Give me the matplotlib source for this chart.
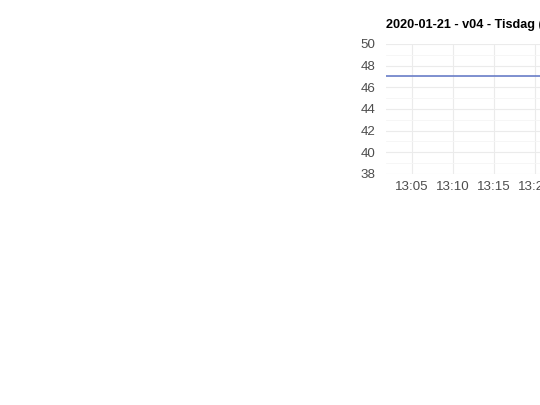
import matplotlib
matplotlib.use("Agg")
import matplotlib.pyplot as plt
import matplotlib.dates as mdates
from matplotlib.ticker import MultipleLocator
from datetime import datetime

# data (flat series at 47)
times = ["13:01:50", "13:05", "13:10", "13:15", "13:20", "13:25", "13:30", "13:35", "13:40"]
values = [47, 47, 47, 47, 47, 47, 47, 47, 47]
title = "2020-01-21 - v04 - Tisdag (kl 13:00-13:40)"

plt.rcParams["font.family"] = ["Liberation Sans", "DejaVu Sans"]

xs = [datetime.strptime("2020-01-21 " + t if len(t) == 8 else "2020-01-21 " + t + ":00",
                        "%Y-%m-%d %H:%M:%S") for t in times]

fig = plt.figure(figsize=(5.4, 4.05), dpi=100)
fig.patch.set_facecolor("white")
ax = fig.add_axes([0.7148, 0.5704, 0.58, 0.321])
ax.set_facecolor("white")

ax.plot(xs, values, color="#5d73c4", lw=1.1, zorder=3)

ax.set_xlim(xs[0], xs[-1])
ax.set_ylim(38, 50)
ax.yaxis.set_major_locator(MultipleLocator(2))
ax.yaxis.set_minor_locator(MultipleLocator(1))
ax.xaxis.set_major_locator(mdates.MinuteLocator(byminute=range(0, 60, 5)))
ax.xaxis.set_major_formatter(mdates.DateFormatter("%H:%M"))

ax.grid(which="major", color="#ebebeb", lw=0.8)
ax.grid(which="minor", axis="y", color="#f5f5f5", lw=0.6)
ax.set_axisbelow(True)
for s in ax.spines.values():
    s.set_visible(False)
ax.tick_params(which="both", length=0, labelsize=9.6, labelcolor="#4d4d4d")
ax.tick_params(axis="y", pad=7.5)
ax.tick_params(axis="x", pad=5)

ax.set_title(title, loc="left", fontsize=9.1, fontweight="bold", pad=11.5)

fig.savefig("out.png", dpi=100)
